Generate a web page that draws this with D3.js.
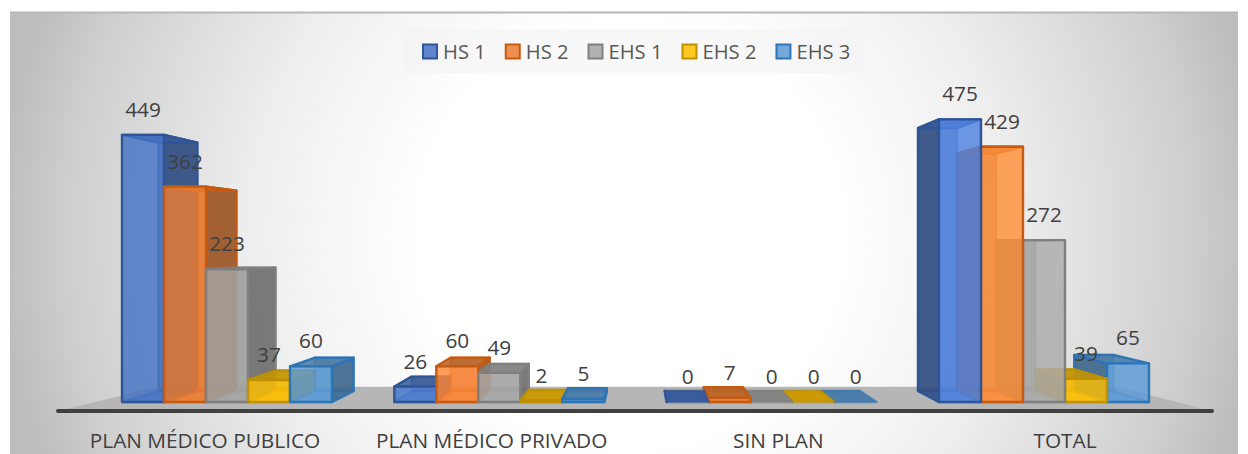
<!DOCTYPE html>
<html><head><meta charset="utf-8">
<script src="https://cdn.jsdelivr.net/npm/d3@7/dist/d3.min.js"></script>
<style>html,body{margin:0;padding:0;background:#fff}svg{display:block}text{font-family:"Open Sans","Noto Sans",sans-serif}</style>
</head><body><svg id="c" width="1248" height="454"></svg>
<script>
const categories = ["PLAN MÉDICO PUBLICO","PLAN MÉDICO PRIVADO","SIN PLAN","TOTAL"];
const seriesNames = ["HS 1","HS 2","EHS 1","EHS 2","EHS 3"];
const hs1 = [449,26,0,475];
const hs2 = [362,60,7,429];
const ehs1 = [223,49,0,272];
const ehs2 = [37,2,0,39];
const ehs3 = [60,5,0,65];
const seriesValues = [hs1,hs2,ehs1,ehs2,ehs3];
const fills = ["#4472c4","#ed7d31","#a5a5a5","#ffc000","#5b9bd5"];
const edges = ["#2f5597","#c55a11","#7f7f7f","#bf9000","#2e75b6"];
const lift = [.4,.4,.1,0,0];

const svg=d3.select("#c");
const defs=svg.append("defs");
const g=defs.append("radialGradient").attr("id","bg").attr("gradientUnits","userSpaceOnUse")
  .attr("cx",630).attr("cy",235).attr("r",630);
[[0,"#fff"],[.34,"#fff"],[.6,"#eeeeee"],[.89,"#cfcfcf"],[1,"#bdbdbd"]].forEach(([o,c])=>
  g.append("stop").attr("offset",o).attr("stop-color",c));
svg.append("rect").attr("x",10).attr("y",13).attr("width",1228).attr("height",441).attr("fill","url(#bg)");
svg.append("line").attr("x1",10).attr("x2",1238).attr("y1",12.5).attr("y2",12.5).attr("stroke","#b8b8b8").attr("stroke-width",2);

// scales
const y=d3.scaleLinear().domain([0,500]).range([402,104.5]);
const x0=d3.scaleBand().domain(categories).range([122,1149]).paddingInner(.2288).paddingOuter(0);
const x1=d3.scaleBand().domain(seriesNames).range([0,x0.bandwidth()]);
const xLabel=d3.scalePoint().domain(categories).range([204.5,1064.5]);

// perspective: the back of the box shrinks toward a vanishing point
const vx=640,vy=245,s=.93;
const back=([px,py])=>[vx+s*(px-vx),vy+s*(py-vy)];
const path=pts=>"M"+pts.map(p=>p.join(",")).join("L")+"Z";

// floor
svg.append("path").attr("fill","#b6b6b6")
  .attr("d",path([[66,409],back([122,y(0)-4.5]),back([1149+6,y(0)-4.5]),[1203,409]]));
svg.append("line").attr("x1",58).attr("x2",1212).attr("y1",411).attr("y2",411)
  .attr("stroke","#404040").attr("stroke-width",4).attr("stroke-linecap","round");

// bars: painted from the outside in, so bars nearer the vanishing point lie on top
const plot=svg.append("g");
categories.forEach((cat,ci)=>{
  const isLeft=x0(cat)+x0.bandwidth()/2<vx;
  const order=isLeft?seriesNames:seriesNames.slice().reverse();
  order.forEach(name=>{
    const si=seriesNames.indexOf(name);
    const v=seriesValues[si][ci];
    const xa=x0(cat)+x1(name),xb=xa+x1.bandwidth(),yt=y(v),yb=y(0);
    const A=[xa,yt],B=[xb,yt],C=[xb,yb],D=[xa,yb];
    const a=back(A),b=back(B),c=back(C),d_=back(D);
    const base=d3.color(fills[si]);
    const bright=(ci===3)?base.brighter(lift[si]):(ci===1?base.brighter(lift[si]/2):base);
    const dark=base.darker(1.2);
    const bar=plot.append("g").attr("stroke",edges[si]).attr("stroke-width",2.4).attr("stroke-linejoin","round");
    const face=(pts,f,o,so)=>bar.append("path").attr("d",path(pts)).attr("fill",f).attr("fill-opacity",o).attr("stroke-opacity",so);
    face([a,b,c,d_],dark,.5,.5);
    face([d_,c,C,D],base,.55,.45);
    if(isLeft) face([b,c,C,B],dark,.8,1);
    else face([a,d_,D,A],dark,.8,1);
    if(v>0){
      face([a,b,B,A],base.darker(.7),.85,1);
      face([A,B,C,D],bright,.82,1);
    } else {
      face([a,b,B,A],base.darker(.65),.95,.35);
    }
  });
});

// data labels
categories.forEach((cat,ci)=>{
  seriesNames.forEach((name,si)=>{
    const v=seriesValues[si][ci];
    svg.append("text").attr("x",x0(cat)+x1(name)+x1.bandwidth()/2).attr("y",y(v)-18)
      .attr("text-anchor","middle").attr("font-size",20.8).attr("fill","#404040").text(v);
  });
});

// category axis
const ax=svg.append("g").attr("transform","translate(0,433)")
  .call(d3.axisBottom(xLabel).tickSize(0).tickPadding(0));
ax.select(".domain").remove();
ax.selectAll("text").attr("font-size",20.8).attr("fill","#404040")
  .attr("font-family",'"Open Sans","Noto Sans",sans-serif').attr("dy",".72em").attr("y",0);

// legend
svg.append("rect").attr("x",403).attr("y",29).attr("width",460).attr("height",44).attr("fill","#f2f2f2").attr("fill-opacity",.55);
let lx=423;
seriesNames.forEach((name,si)=>{
  svg.append("rect").attr("x",lx).attr("y",44.5).attr("width",14).attr("height",14)
    .attr("fill",fills[si]).attr("fill-opacity",.85).attr("stroke",edges[si]).attr("stroke-width",2);
  const t=svg.append("text").attr("x",lx+20).attr("y",58.5).attr("font-size",20.2).attr("fill","#595959").text(name);
  lx+=20+t.node().getComputedTextLength()+20;
});
</script></body></html>
